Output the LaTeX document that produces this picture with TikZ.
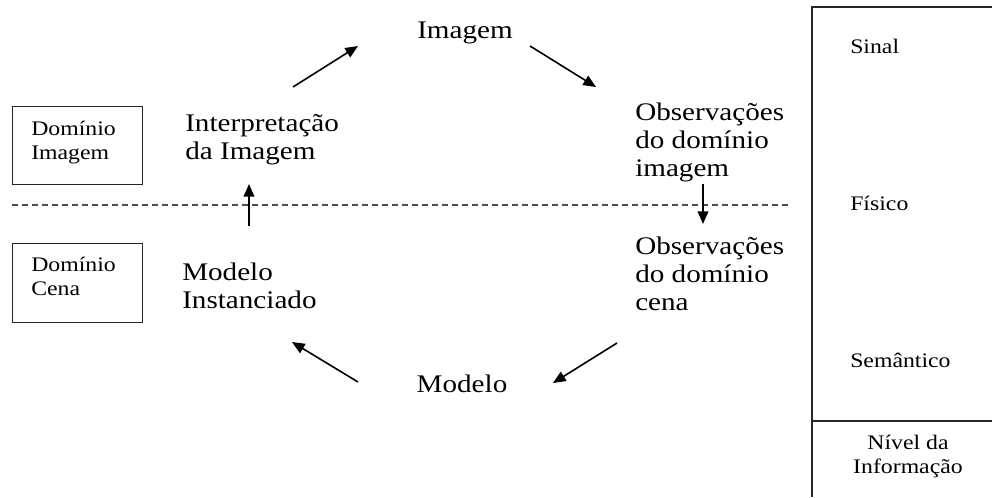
\documentclass[tikz,border=0pt]{standalone}
\usepackage{fontspec}
\setmainfont[FakeStretch=1.15]{Liberation Serif}
\usetikzlibrary{arrows.meta}
\tikzset{
  bigtext/.style={inner sep=0pt, align=left, font=\fontsize{19}{21}\selectfont},
  smalltext/.style={inner sep=0pt, align=left, font=\fontsize{15.5}{17.6}\selectfont},
  flow/.style={line width=1.2pt, -{Triangle[length=9.5pt,width=8pt]}},
  domainbox/.style={line width=0.9pt, black!85},
}
\begin{document}
\begin{tikzpicture}[x=0.75pt,y=-0.75pt]
                \useasboundingbox (0,0) rectangle (992,497);
                
                % Drawing dashed line between domains
                \coordinate (dl) at (12,205);%
                \coordinate (dr) at (788,205);%
                \draw [line width=0.8pt, dash pattern=on 4.5pt off 3pt, black!70] (dl) -- (dr);%
                
                % Domain boxes
                \node (bimg) [domainbox, draw, minimum width=97.5pt, minimum height=58.5pt, anchor=north west] at (12,106) {};%
                \node (dimg) [smalltext, anchor=base west] at (31,159) {Domínio\\Imagem};%
                \node (bcen) [domainbox, draw, minimum width=97.5pt, minimum height=59pt, anchor=north west] at (12,243) {};%
                \node (dcen) [smalltext, anchor=base west] at (31,295) {Domínio\\Cena};%
                
                % Cycle texts
                \node (imagem) [bigtext, anchor=base] at (465,38) {Imagem};%
                \node (obsimg) [bigtext, anchor=base west] at (635,176) {Observações\\do domínio\\imagem};%
                \node (obscen) [bigtext, anchor=base west] at (635,310) {Observações\\do domínio\\cena};%
                \node (modelo) [bigtext, anchor=base] at (462,392) {Modelo};%
                \node (inst) [bigtext, anchor=base west] at (182,308) {Modelo\\Instanciado};%
                \node (interp) [bigtext, anchor=base west] at (185,159) {Interpretação\\da Imagem};%
                
                % Arrow ends
                \coordinate (a1s) at (293,87);   \coordinate (a1e) at (358,46);%
                \coordinate (a2s) at (530,46);   \coordinate (a2e) at (596,87);%
                \coordinate (a3s) at (703,184);  \coordinate (a3e) at (703,224);%
                \coordinate (a4s) at (617,343);  \coordinate (a4e) at (553,383);%
                \coordinate (a5s) at (358,382);  \coordinate (a5e) at (292,342);%
                \coordinate (a6s) at (249,226);  \coordinate (a6e) at (249,184);%
                
                % Drawing arrows of the cycle
                \draw [flow] (a1s) -- (a1e);%
                \draw [flow] (a2s) -- (a2e);%
                \draw [flow] (a3s) -- (a3e);%
                \draw [flow] (a4s) -- (a4e);%
                \draw [flow] (a5s) -- (a5e);%
                \draw [flow] (a6s) -- (a6e);%
                
                % Drawing information level column
                \coordinate (ctop) at (812,7);%
                \coordinate (cbot) at (812,497);%
                \coordinate (ctr) at (992,7);%
                \coordinate (cml) at (812,421);%
                \coordinate (cmr) at (992,421);%
                \draw [line width=0.9pt, black!85] (ctr) -- (ctop) -- (cbot);%
                \draw [line width=0.9pt, black!85] (cml) -- (cmr);%
                \node (sinal) [smalltext, anchor=base west] at (850,53) {Sinal};%
                \node (fisico) [smalltext, anchor=base west] at (850,210) {Físico};%
                \node (seman) [smalltext, anchor=base west] at (850,367) {Semântico};%
                \node (nivel) [smalltext, align=center, anchor=base] at (908,473) {Nível da\\Informação};%
\end{tikzpicture}
\end{document}
